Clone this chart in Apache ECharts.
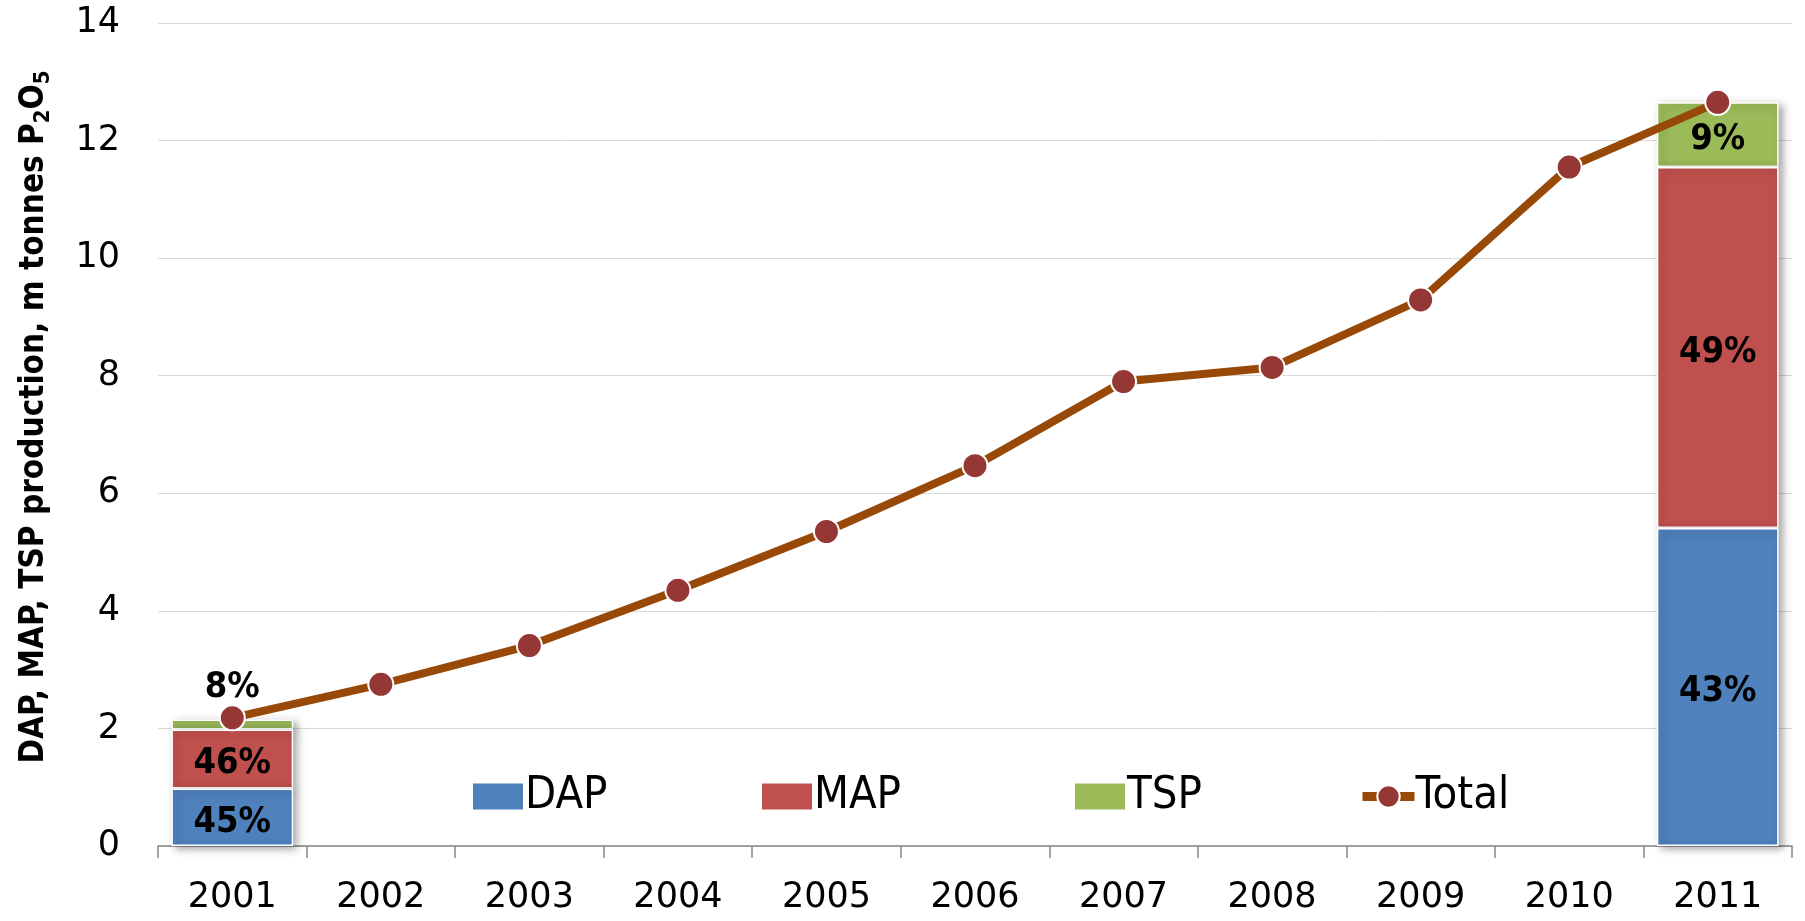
<!DOCTYPE html>
<html>
<head>
<meta charset="utf-8">
<script src="https://cdn.jsdelivr.net/npm/echarts@6/dist/echarts.min.js"></script>
<style>
  html, body { margin: 0; padding: 0; background: #fff; }
  #chart { width: 1805px; height: 921px; }
</style>
</head>
<body>
<div id="chart"></div>
<script>
// Phosphate fertiliser production, million tonnes P2O5
const years = ['2001', '2002', '2003', '2004', '2005', '2006', '2007', '2008', '2009', '2010', '2011'];
const dap = [0.98, null, null, null, null, null, null, null, null, null, 5.41];
const mapProd = [1.00, null, null, null, null, null, null, null, null, null, 6.14];
const tsp = [0.17, null, null, null, null, null, null, null, null, null, 1.10];
const total = [2.18, 2.75, 3.41, 4.35, 5.35, 6.47, 7.90, 8.14, 9.29, 11.55, 12.65];
const yTicks = [0, 2, 4, 6, 8, 10, 12, 14];

const COLORS = { dap: '#4F81BD', map: '#C0504D', tsp: '#9BBB59', line: '#984807', dot: '#953735' };

function pct(v, i) {
  return Math.round(v / total[i] * 100) + '%';
}

const labelFont = { fontFamily: 'DejaVu Sans Condensed', fontWeight: 'bold', fontSize: 36, color: '#000' };

function barData(values, topLabelIdx) {
  return values.map((v, i) => {
    if (v == null) return null;
    const item = { value: v };
    if (i === topLabelIdx) {
      item.label = { position: 'top', distance: 14, offset: [0, 0] };
    }
    return item;
  });
}

function barSeries(name, values, color, z, topLabelIdx) {
  return {
    name: name,
    type: 'bar',
    stack: 'prod',
    z: z,
    barWidth: '82%',
    data: barData(values, topLabelIdx),
    itemStyle: {
      color: color,
      borderColor: '#fff',
      borderWidth: 1.5,
      shadowBlur: 8,
      shadowColor: 'rgba(0,0,0,0.35)',
      shadowOffsetX: 4,
      shadowOffsetY: 3
    },
    label: Object.assign({
      show: true,
      position: 'inside',
      offset: [0, 5],
      formatter: p => pct(p.value, p.dataIndex)
    }, labelFont),
    emphasis: { disabled: true }
  };
}

const legendText = { fontFamily: 'DejaVu Sans Condensed', fontSize: 45, color: '#000' };

function legendAt(name, left, icon) {
  return {
    data: [name],
    left: left,
    top: 769,
    itemWidth: 52,
    itemHeight: 28,
    itemGap: 0,
    icon: icon,
    lineStyle: { width: 9 },
    textStyle: Object.assign({ padding: [0, 0, 0, -4] }, legendText),
    selectedMode: false
  };
}

const chart = echarts.init(document.getElementById('chart'), null, { renderer: 'canvas' });

chart.setOption({
  animation: false,
  backgroundColor: '#fff',
  grid: { left: 158, right: 13, top: 23, bottom: 75 },
  legend: [
    legendAt('DAP', 466, 'rect'),
    legendAt('MAP', 755, 'rect'),
    legendAt('TSP', 1068, 'rect'),
    legendAt('Total', 1353)
  ],
  xAxis: {
    type: 'category',
    data: years,
    boundaryGap: true,
    axisLine: { show: true, lineStyle: { color: '#868686', width: 1.5 } },
    axisTick: { show: true, length: 12, lineStyle: { color: '#868686', width: 1.5 } },
    axisLabel: { margin: 34, fontFamily: 'DejaVu Sans', fontSize: 35, color: '#000' },
    splitLine: { show: false }
  },
  yAxis: {
    type: 'value',
    min: yTicks[0],
    max: yTicks[yTicks.length - 1],
    interval: yTicks[1] - yTicks[0],
    axisLine: { show: false },
    axisTick: { show: false },
    axisLabel: { margin: 38, fontFamily: 'DejaVu Sans', fontSize: 35, color: '#000' },
    splitLine: { show: true, lineStyle: { color: '#d9d9d9', width: 1 } }
  },
  graphic: [{
    type: 'text',
    x: 34,
    y: 417,
    rotation: Math.PI / 2,
    silent: true,
    style: {
      text: '{b|DAP, MAP, TSP production, m tonnes P}{s|2}{b|O}{s|5}',
      align: 'center',
      verticalAlign: 'middle',
      rich: {
        b: { fontFamily: 'DejaVu Sans Condensed', fontWeight: 'bold', fontSize: 33, lineHeight: 40, verticalAlign: 'middle', fill: '#000' },
        s: { fontFamily: 'DejaVu Sans Condensed', fontWeight: 'bold', fontSize: 22, lineHeight: 22, verticalAlign: 'bottom', fill: '#000' }
      }
    }
  }],
  series: [
    barSeries('DAP', dap, COLORS.dap, 4, -1),
    barSeries('MAP', mapProd, COLORS.map, 3, -1),
    barSeries('TSP', tsp, COLORS.tsp, 2, 0),
    {
      name: 'Total',
      type: 'line',
      z: 10,
      data: total,
      symbol: 'circle',
      symbolSize: 25,
      lineStyle: { color: COLORS.line, width: 8 },
      itemStyle: { color: COLORS.dot, borderColor: '#fff', borderWidth: 2 },
      emphasis: { disabled: true }
    }
  ]
});
</script>
</body>
</html>
